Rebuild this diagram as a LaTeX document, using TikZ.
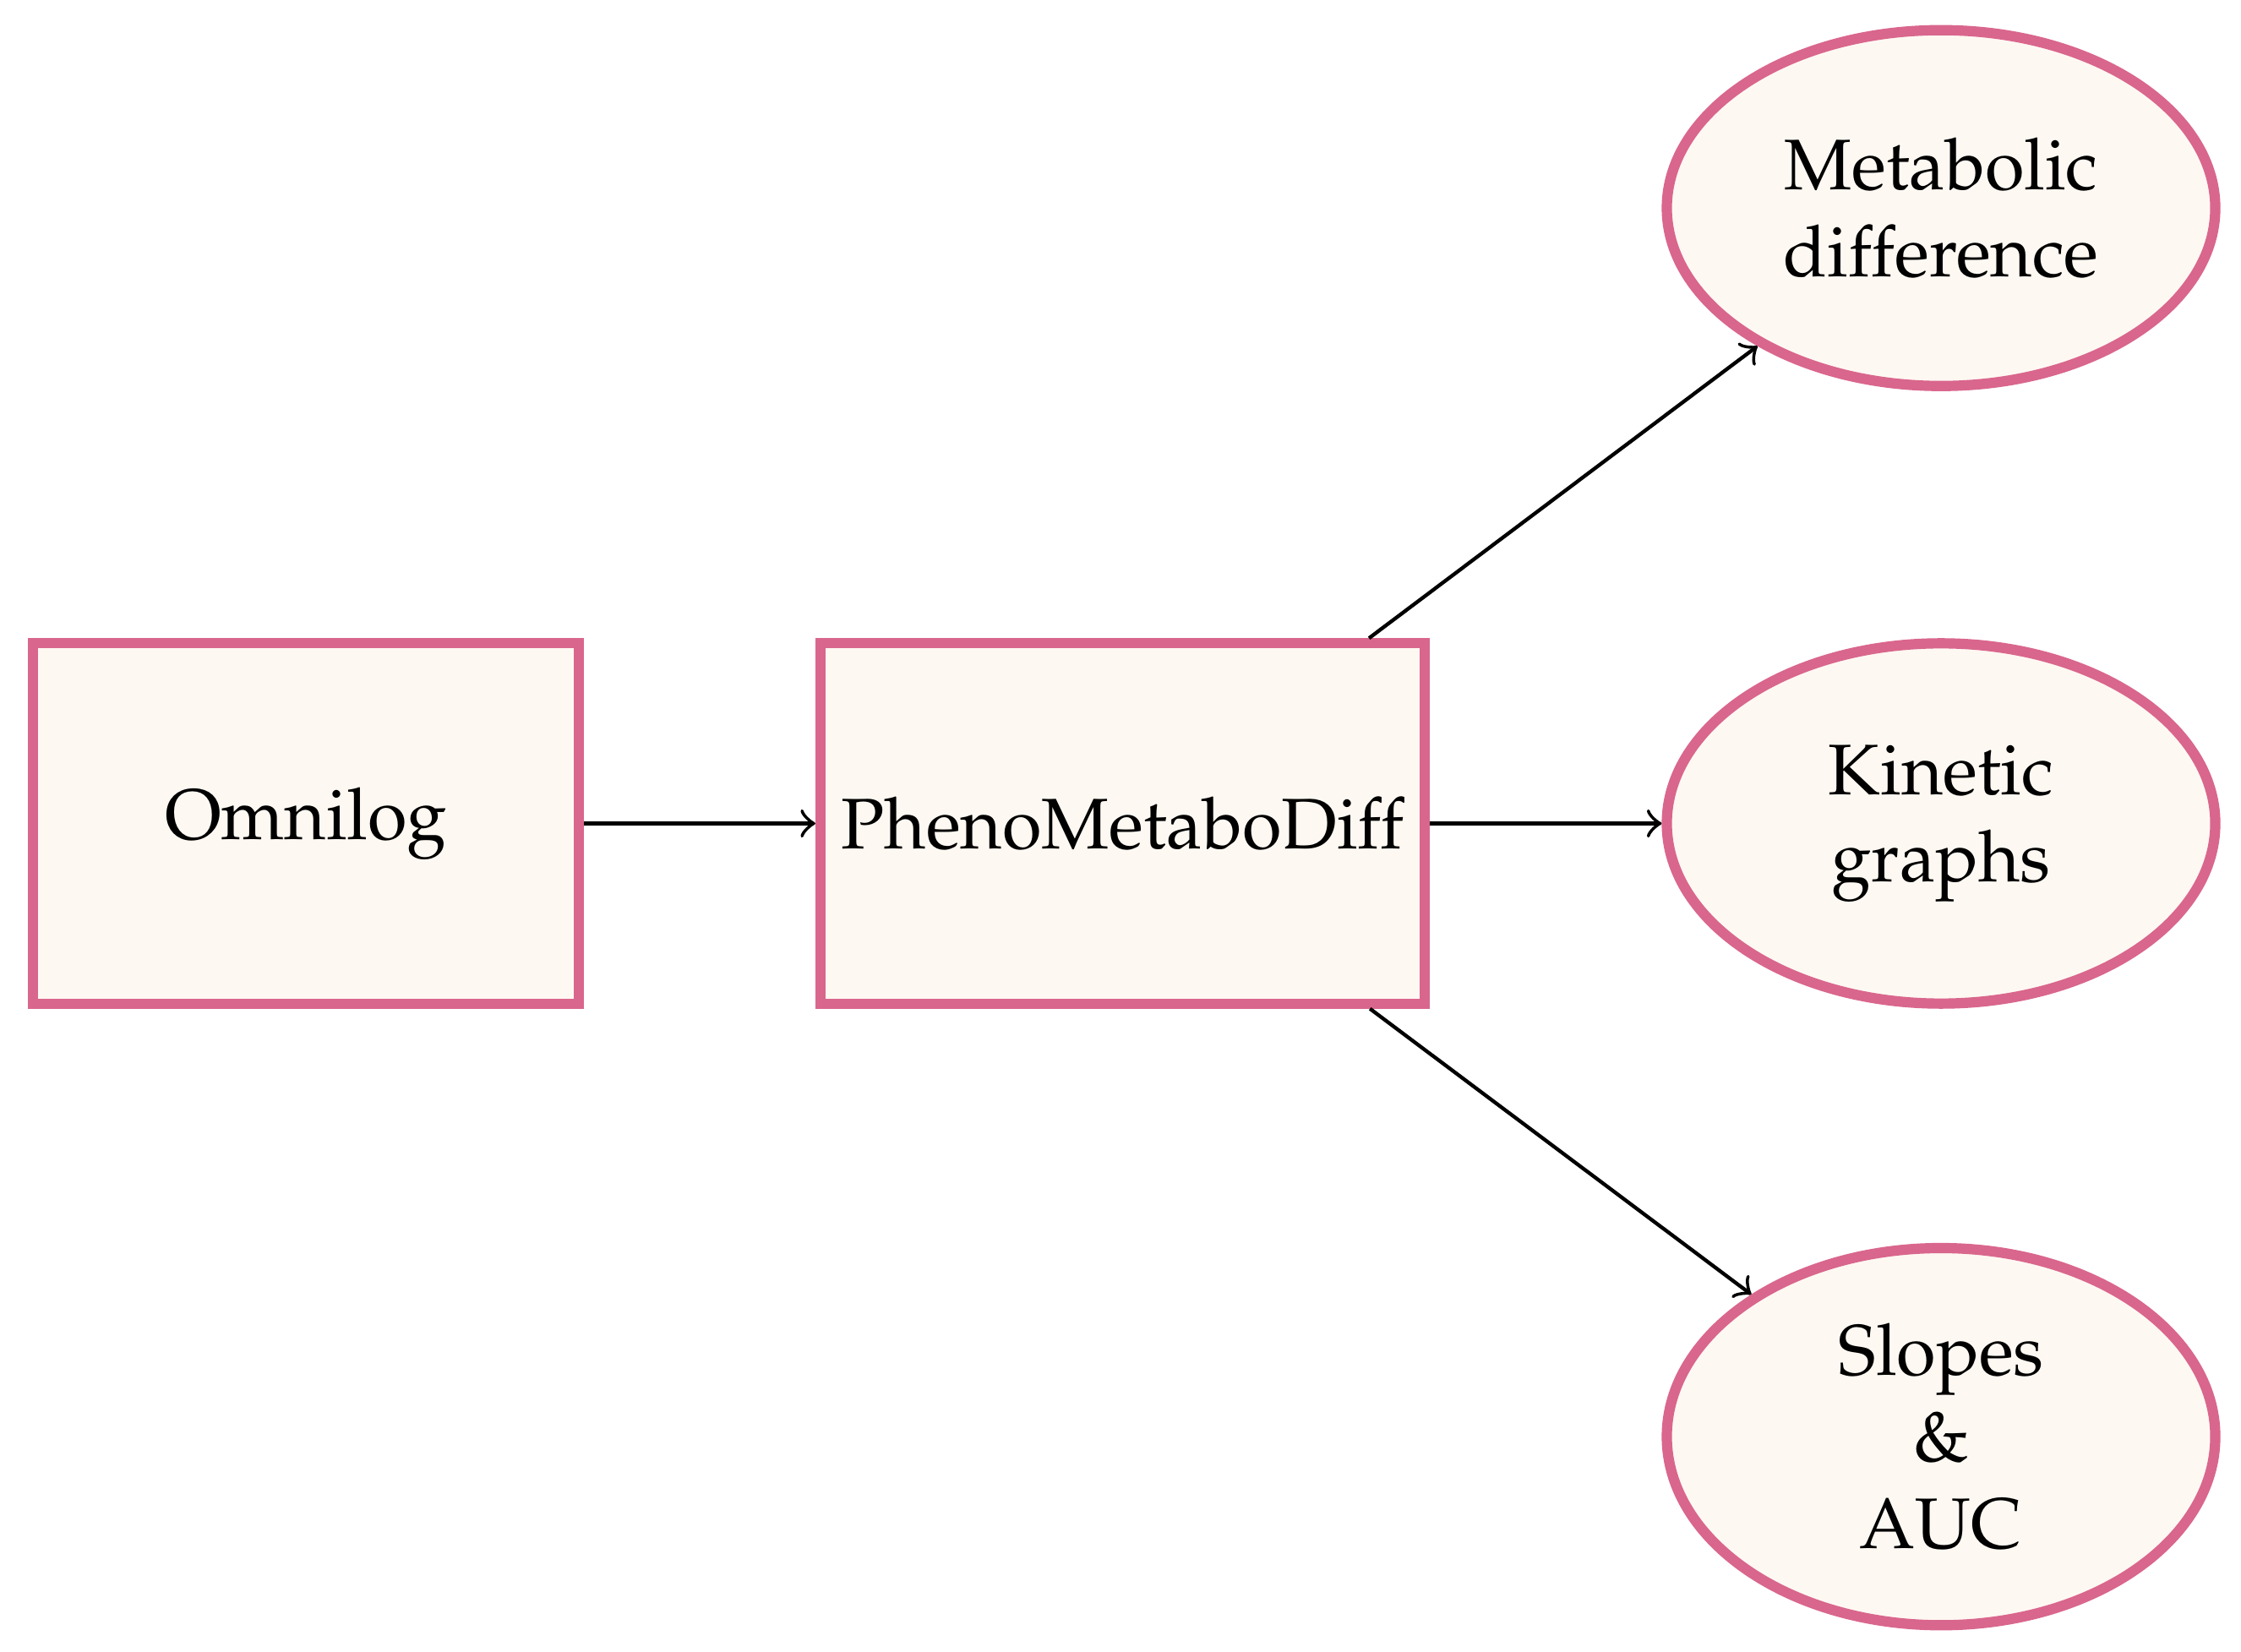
\documentclass[tikz,border=0pt]{standalone}
\usepackage[T1]{fontenc}
\usepackage{mathpazo}
\usetikzlibrary{shapes.geometric}
\definecolor{edgepink}{RGB}{217,102,141}
\definecolor{cream}{RGB}{254,248,242}
\tikzset{
  boxnode/.style={draw=edgepink, fill=cream, line width=1.4pt, rectangle, inner sep=0pt,
    minimum height=49pt, font=\fontsize{9.75}{11.8}\selectfont},
  ovalnode/.style={draw=edgepink, fill=cream, line width=1.4pt, ellipse, inner sep=0pt,
    minimum width=74.6pt, align=center, font=\fontsize{9.75}{11.8}\selectfont},
  conn/.style={->, line width=0.5pt, black}
}
\begin{document}
\begin{tikzpicture}
\useasboundingbox (0pt,0pt) rectangle (304.8pt,-224.6pt);
\node[boxnode, minimum width=74.3pt] (omni) at (41.6pt,-112pt) {Omnilog};
\node[boxnode, minimum width=82.2pt] (pheno) at (152.7pt,-112pt) {PhenoMetaboDiff};
\node[ovalnode, minimum height=48.4pt] (meta) at (264pt,-28.3pt) {Metabolic\\difference};
\node[ovalnode, minimum height=49pt] (kin) at (264pt,-112pt) {Kinetic\\graphs};
\node[ovalnode, minimum height=51.3pt] (slope) at (264pt,-195.4pt) {Slopes\\\&\\AUC};
\draw[conn] (omni) -- (pheno);
\draw[conn] (pheno) -- (meta);
\draw[conn] (pheno) -- (kin);
\draw[conn] (pheno) -- (slope);
\end{tikzpicture}
\end{document}
